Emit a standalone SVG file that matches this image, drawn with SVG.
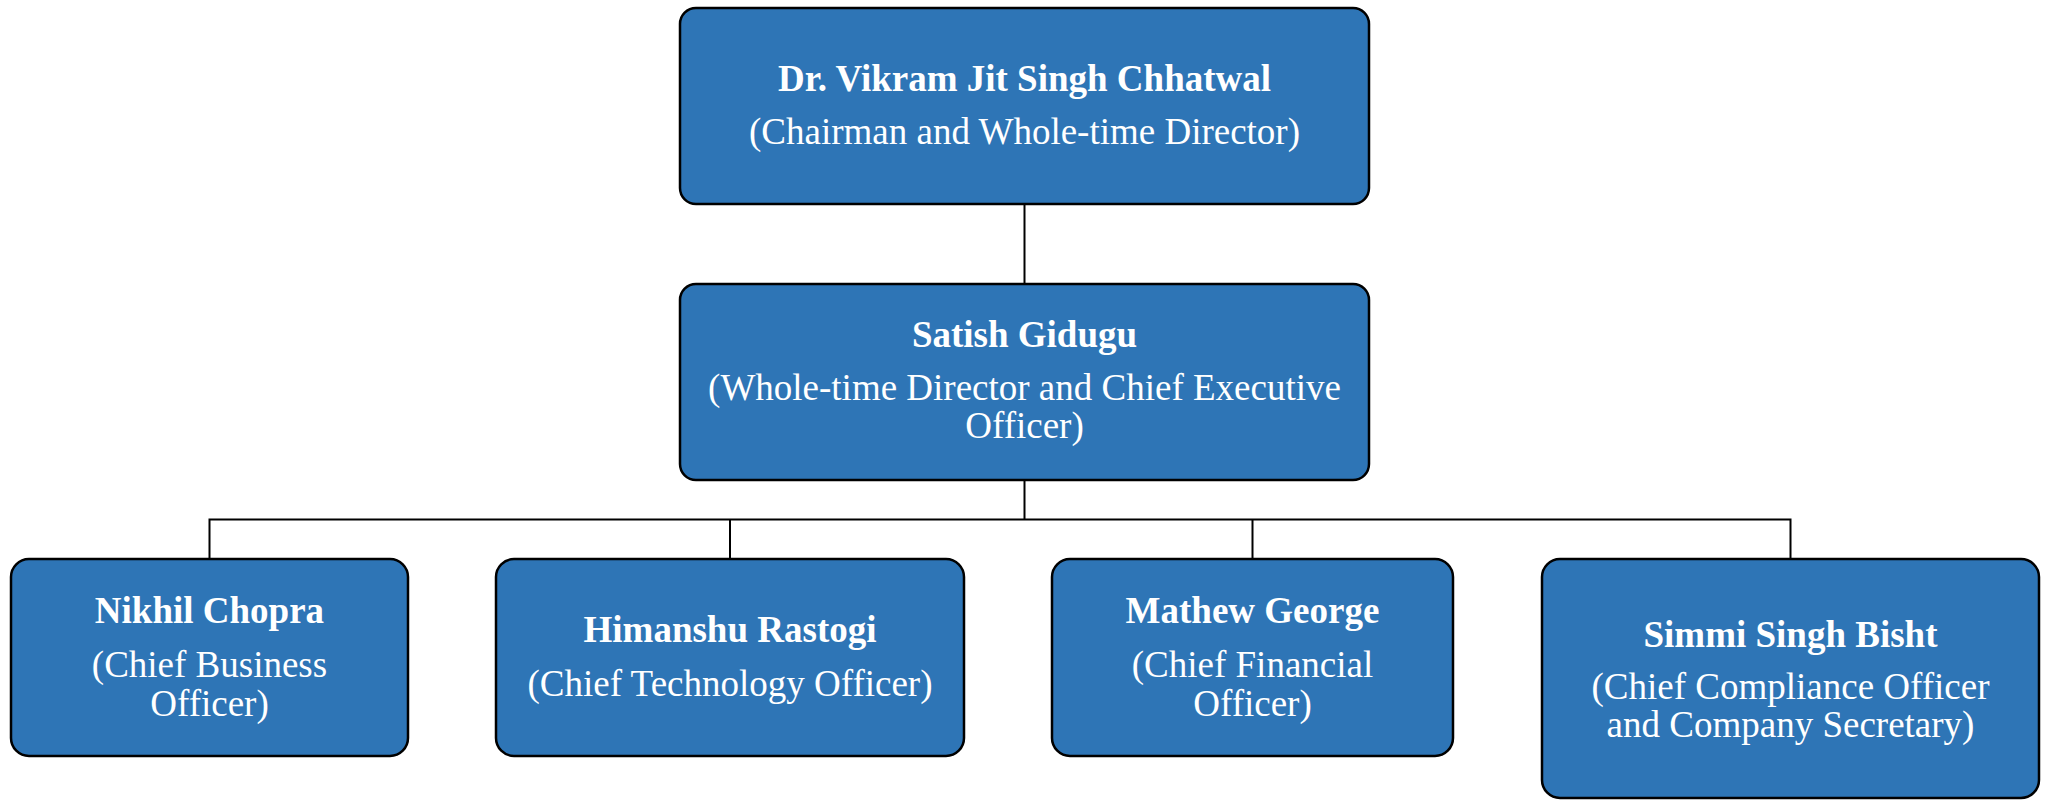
<svg xmlns="http://www.w3.org/2000/svg" width="2050" height="800" viewBox="0 0 2050 800">
<style>
.box{fill:#2E75B6;stroke:#000;stroke-width:2.5}
.t{font-family:"Liberation Serif","Times New Roman",serif;font-size:37px;fill:#fff;text-anchor:middle}
.b{font-weight:bold}
.c{fill:none;stroke:#000;stroke-width:2}
</style>
<rect width="2050" height="800" fill="#fff"/>
<g id="connectors">
<line class="c" x1="1024.5" y1="204" x2="1024.5" y2="284"/>
<line class="c" x1="1024.5" y1="480" x2="1024.5" y2="519.5" stroke-width="2.5"/>
<polyline class="c" points="209.5,559 209.5,519.5 1790.5,519.5 1790.5,559"/>
<line class="c" x1="730" y1="519.5" x2="730" y2="559"/>
<line class="c" x1="1252.5" y1="519.5" x2="1252.5" y2="559"/>
</g>
<g id="chairman">
<rect class="box" x="680" y="8" width="689" height="196" rx="16"/>
<text class="t b" x="1024.5" y="91">Dr. Vikram Jit Singh Chhatwal</text>
<text class="t" x="1024.5" y="144">(Chairman and Whole-time Director)</text>
</g>
<g id="ceo">
<rect class="box" x="680" y="284" width="689" height="196" rx="16"/>
<text class="t b" x="1024.5" y="347">Satish Gidugu</text>
<text class="t" x="1024.5" y="400">(Whole-time Director and Chief Executive</text>
<text class="t" x="1024.5" y="438">Officer)</text>
</g>
<g id="cbo">
<rect class="box" x="11" y="559" width="397" height="197" rx="18"/>
<text class="t b" x="209.5" y="623">Nikhil Chopra</text>
<text class="t" x="209.5" y="677">(Chief Business</text>
<text class="t" x="209.5" y="716">Officer)</text>
</g>
<g id="cto">
<rect class="box" x="496" y="559" width="468" height="197" rx="18"/>
<text class="t b" x="730" y="642">Himanshu Rastogi</text>
<text class="t" x="730" y="696">(Chief Technology Officer)</text>
</g>
<g id="cfo">
<rect class="box" x="1052" y="559" width="401" height="197" rx="18"/>
<text class="t b" x="1252.5" y="623">Mathew George</text>
<text class="t" x="1252.5" y="677">(Chief Financial</text>
<text class="t" x="1252.5" y="716">Officer)</text>
</g>
<g id="cco">
<rect class="box" x="1542" y="559" width="497" height="239" rx="18"/>
<text class="t b" x="1790.5" y="647">Simmi Singh Bisht</text>
<text class="t" x="1790.5" y="699">(Chief Compliance Officer</text>
<text class="t" x="1790.5" y="737">and Company Secretary)</text>
</g>
</svg>
